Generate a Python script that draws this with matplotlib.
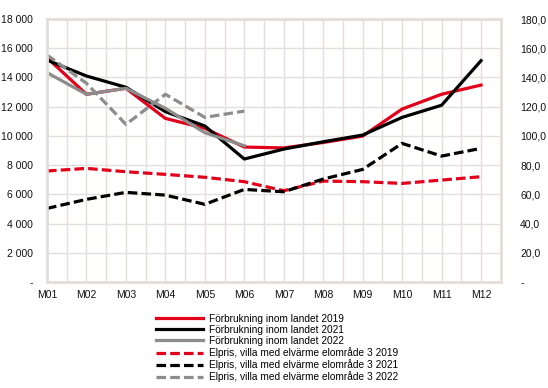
import matplotlib
matplotlib.use("Agg")
import matplotlib.pyplot as plt
from matplotlib.ticker import FuncFormatter, MultipleLocator

plt.rcParams["font.family"] = ["Liberation Sans", "DejaVu Sans"]

months = ["M01", "M02", "M03", "M04", "M05", "M06",
          "M07", "M08", "M09", "M10", "M11", "M12"]

# förbrukning (left axis)
use_2019 = [15350, 12850, 13260, 11200, 10520, 9240, 9180, 9550, 9990, 11840, 12850, 13480]
use_2021 = [15190, 14100, 13330, 11660, 10680, 8420, 9100, 9600, 10060, 11270, 12100, 15150]
use_2022 = [14330, 12850, 13260, 11890, 10220, 9330]

# elpris (right axis)
price_2019 = [76.0, 77.8, 75.5, 73.7, 71.7, 68.7, 62.5, 69.1, 68.7, 67.5, 69.8, 72.1]
price_2021 = [50.4, 56.6, 61.4, 59.5, 53.2, 63.4, 61.8, 70.5, 77.1, 94.9, 86.2, 91.5]
price_2022 = [155.4, 136.0, 107.9, 128.5, 112.7, 117.0]

RED = "#e2001a"
BLACK = "#000000"
GRAY = "#8c8c8c"
GRID = "#e4dfda"

fig = plt.figure(figsize=(5.48, 3.88), dpi=100)
ax = fig.add_axes([0.0858, 0.273, 0.828, 0.678])
ax2 = ax.twinx()

x = list(range(len(months)))
lw = 2.3
dash = (0, (3, 1.3))

h1, = ax.plot(x, use_2019, color=RED, lw=lw, label="Förbrukning inom landet 2019")
h2, = ax.plot(x, use_2021, color=BLACK, lw=lw, label="Förbrukning inom landet 2021")
h3, = ax.plot(x[:len(use_2022)], use_2022, color=GRAY, lw=lw, label="Förbrukning inom landet 2022")
h4, = ax2.plot(x, price_2019, color=RED, lw=lw, ls=dash,
               label="Elpris, villa med elvärme elområde 3 2019")
h5, = ax2.plot(x, price_2021, color=BLACK, lw=lw, ls=dash,
               label="Elpris, villa med elvärme elområde 3 2021")
h6, = ax2.plot(x[:len(price_2022)], price_2022, color=GRAY, lw=lw, ls=dash,
               label="Elpris, villa med elvärme elområde 3 2022")

ax.set_xlim(0, 11.5)
ax.set_ylim(0, 18000)
ax2.set_ylim(0, 180)
ax.set_xticks(x)
ax.set_xticklabels(months)
ax.xaxis.set_minor_locator(MultipleLocator(0.5))
ax.yaxis.set_major_locator(MultipleLocator(2000))
ax2.yaxis.set_major_locator(MultipleLocator(20))

ax.yaxis.set_major_formatter(FuncFormatter(
    lambda v, p: "-" if v == 0 else f"{int(v):,}".replace(",", " ")))
ax2.yaxis.set_major_formatter(FuncFormatter(
    lambda v, p: "-" if v == 0 else f"{v:.1f}".replace(".", ",")))

ax.grid(True, which="both", axis="x", color=GRID, lw=1)
ax.grid(True, which="major", axis="y", color=GRID, lw=1)
ax.set_axisbelow(True)

for a in (ax, ax2):
    a.tick_params(which="both", length=0, labelsize=7.5, colors="#111111")
    for s in a.spines.values():
        s.set_color(GRID)
        s.set_linewidth(1.8)
ax.tick_params(axis="y", pad=10)
ax2.tick_params(axis="y", pad=14)
ax.tick_params(axis="x", pad=6)

fig.legend(handles=[h1, h2, h3, h4, h5, h6], loc="upper center",
           bbox_to_anchor=(0.505, 0.205), frameon=False, fontsize=7.3,
           handlelength=4.7, handletextpad=0.5, labelspacing=0.12,
           borderpad=0)

fig.savefig("out.png", dpi=100)
